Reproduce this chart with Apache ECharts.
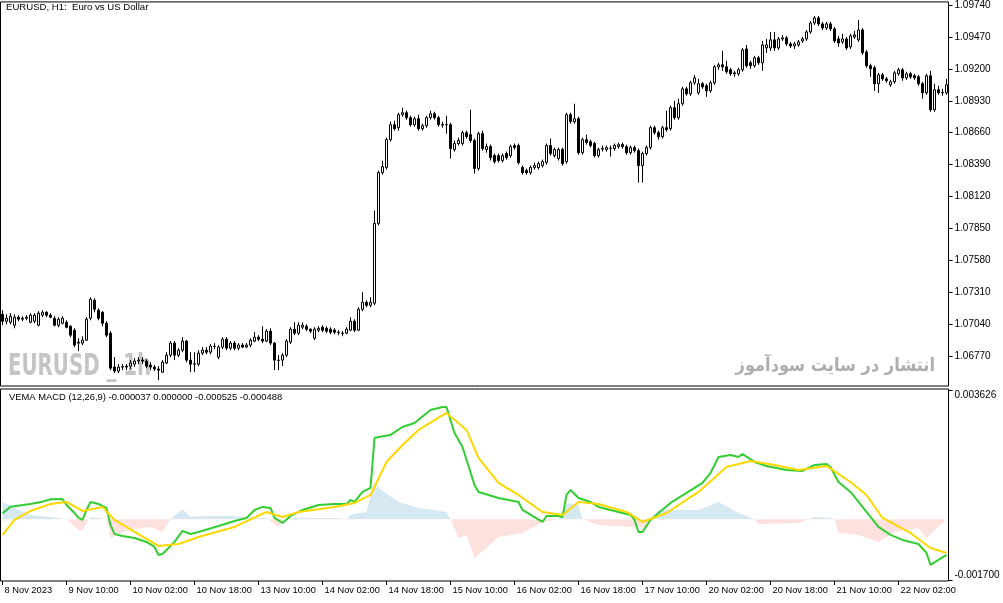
<!DOCTYPE html>
<html>
<head>
<meta charset="utf-8">
<script src="https://cdn.jsdelivr.net/npm/echarts@6.0.0/dist/echarts.min.js"></script>
</head>
<body style="margin:0; background:#fff">
<div id="container" style="width:1003px; height:603px"></div>
<script type="text/javascript">
// EURUSD H1, 8 Nov 2023 18:00 .. 22 Nov 2023 14:00
var opens = [
 1.07124,1.07065,1.07056,1.07031,1.07099,1.07082,1.07090,1.07056,1.07065,1.07031,
 1.07116,1.07141,1.07116,1.07090,1.07031,1.07048,1.07056,1.07022,1.06989,1.06888,
 1.06880,1.06905,1.07090,1.07242,1.07158,1.07141,1.07048,1.06964,1.06677,1.06643,
 1.06677,1.06677,1.06685,1.06702,1.06728,1.06736,1.06728,1.06694,1.06677,1.06660,
 1.06634,1.06711,1.06778,1.06880,1.06778,1.06820,1.06897,1.06736,1.06702,1.06702,
 1.06795,1.06820,1.06803,1.06854,1.06761,1.06846,1.06913,1.06837,1.06880,1.06837,
 1.06863,1.06846,1.06863,1.06897,1.06930,1.06913,1.06897,1.06981,1.06880,1.06736,
 1.06736,1.06778,1.06888,1.06997,1.06964,1.07014,1.07022,1.06997,1.06921,1.06989,
 1.07014,1.07005,1.06997,1.06989,1.06972,1.06964,1.06964,1.06989,1.07065,1.06989,
 1.07166,1.07225,1.07200,1.07217,1.07892,1.08322,1.08365,1.08601,1.08727,1.08702,
 1.08812,1.08829,1.08787,1.08727,1.08778,1.08694,1.08719,1.08787,1.08820,1.08787,
 1.08727,1.08727,1.08727,1.08517,1.08568,1.08568,1.08660,1.08643,1.08593,1.08356,
 1.08652,1.08517,1.08542,1.08466,1.08466,1.08424,1.08483,1.08466,1.08551,1.08551,
 1.08365,1.08339,1.08322,1.08365,1.08365,1.08382,1.08407,1.08551,1.08466,1.08441,
 1.08517,1.08415,1.08812,1.08753,1.08778,1.08491,1.08601,1.08584,1.08568,1.08466,
 1.08525,1.08517,1.08525,1.08525,1.08542,1.08559,1.08542,1.08491,1.08534,1.08508,
 1.08382,1.08483,1.08534,1.08702,1.08660,1.08626,1.08702,1.08694,1.08871,1.08787,
 1.08905,1.09031,1.08989,1.09082,1.08997,1.09074,1.09057,1.09014,1.09082,1.09217,
 1.09234,1.09217,1.09192,1.09158,1.09158,1.09192,1.09368,1.09251,1.09226,1.09293,
 1.09251,1.09377,1.09377,1.09445,1.09377,1.09453,1.09462,1.09411,1.09394,1.09402,
 1.09436,1.09453,1.09512,1.09588,1.09631,1.09580,1.09546,1.09580,1.09538,1.09453,
 1.09428,1.09453,1.09386,1.09470,1.09445,1.09529,1.09343,1.09226,1.09209,1.09074,
 1.09149,1.09115,1.09065,1.09090,1.09158,1.09192,1.09124,1.09158,1.09141,1.09132,
 1.09074,1.08997,1.09141,1.08854,1.09023,1.08997,1.08997
];
var closes = [
 1.07065,1.07090,1.07107,1.07099,1.07082,1.07090,1.07099,1.07116,1.07116,1.07133,
 1.07141,1.07116,1.07099,1.07031,1.07082,1.07090,1.07014,1.06947,1.06863,1.06880,
 1.06905,1.07082,1.07251,1.07166,1.07090,1.07048,1.06947,1.06668,1.06643,1.06677,
 1.06680,1.06685,1.06711,1.06728,1.06736,1.06728,1.06685,1.06677,1.06660,1.06651,
 1.06719,1.06778,1.06880,1.06778,1.06820,1.06897,1.06736,1.06702,1.06705,1.06795,
 1.06820,1.06803,1.06854,1.06851,1.06846,1.06913,1.06837,1.06880,1.06837,1.06863,
 1.06846,1.06863,1.06905,1.06930,1.06913,1.06897,1.06981,1.06880,1.06736,1.06733,
 1.06778,1.06897,1.06997,1.06964,1.07031,1.07031,1.06997,1.06981,1.06997,1.07005,
 1.06989,1.06981,1.06972,1.06972,1.06969,1.06961,1.06997,1.07065,1.06989,1.07166,
 1.07225,1.07200,1.07225,1.07892,1.08322,1.08373,1.08601,1.08727,1.08694,1.08812,
 1.08829,1.08787,1.08727,1.08778,1.08694,1.08719,1.08787,1.08820,1.08787,1.08727,
 1.08724,1.08730,1.08525,1.08568,1.08593,1.08660,1.08626,1.08593,1.08356,1.08652,
 1.08525,1.08542,1.08449,1.08415,1.08424,1.08466,1.08449,1.08542,1.08534,1.08407,
 1.08322,1.08322,1.08365,1.08382,1.08398,1.08415,1.08551,1.08483,1.08517,1.08517,
 1.08398,1.08812,1.08753,1.08778,1.08491,1.08601,1.08576,1.08551,1.08466,1.08517,
 1.08522,1.08534,1.08528,1.08551,1.08559,1.08542,1.08491,1.08534,1.08508,1.08382,
 1.08483,1.08534,1.08702,1.08660,1.08626,1.08702,1.08686,1.08871,1.08787,1.08905,
 1.09031,1.08989,1.09082,1.09124,1.09074,1.09048,1.09014,1.09082,1.09217,1.09234,
 1.09217,1.09175,1.09158,1.09166,1.09192,1.09360,1.09226,1.09226,1.09293,1.09251,
 1.09402,1.09402,1.09445,1.09377,1.09453,1.09462,1.09411,1.09394,1.09411,1.09428,
 1.09453,1.09512,1.09588,1.09631,1.09580,1.09546,1.09580,1.09538,1.09436,1.09419,
 1.09453,1.09377,1.09479,1.09487,1.09529,1.09335,1.09226,1.09200,1.09074,1.09149,
 1.09115,1.09099,1.09090,1.09166,1.09192,1.09124,1.09158,1.09132,1.09124,1.09074,
 1.08997,1.09141,1.08854,1.09023,1.08997,1.09000,1.09065
];
var lows = [
 1.07031,1.07039,1.07039,1.07005,1.07065,1.07065,1.07073,1.07048,1.07048,1.07022,
 1.07099,1.07099,1.07090,1.07022,1.07014,1.07039,1.07005,1.06930,1.06846,1.06812,
 1.06863,1.06897,1.07073,1.07141,1.07073,1.07022,1.06930,1.06651,1.06626,1.06626,
 1.06651,1.06651,1.06660,1.06677,1.06702,1.06702,1.06668,1.06651,1.06643,1.06567,
 1.06626,1.06702,1.06761,1.06736,1.06761,1.06803,1.06719,1.06634,1.06634,1.06685,
 1.06778,1.06786,1.06786,1.06829,1.06744,1.06829,1.06820,1.06820,1.06820,1.06820,
 1.06837,1.06837,1.06846,1.06888,1.06897,1.06880,1.06888,1.06863,1.06651,1.06651,
 1.06685,1.06761,1.06871,1.06947,1.06947,1.06997,1.06981,1.06964,1.06905,1.06972,
 1.06972,1.06964,1.06955,1.06955,1.06947,1.06938,1.06955,1.06981,1.06972,1.06981,
 1.07150,1.07183,1.07183,1.07200,1.07875,1.08305,1.08348,1.08584,1.08677,1.08677,
 1.08795,1.08770,1.08711,1.08711,1.08677,1.08677,1.08702,1.08770,1.08770,1.08711,
 1.08702,1.08652,1.08441,1.08500,1.08551,1.08551,1.08610,1.08576,1.08314,1.08339,
 1.08508,1.08491,1.08424,1.08398,1.08407,1.08407,1.08432,1.08449,1.08517,1.08390,
 1.08305,1.08305,1.08305,1.08348,1.08348,1.08365,1.08390,1.08466,1.08449,1.08424,
 1.08382,1.08398,1.08736,1.08736,1.08474,1.08474,1.08559,1.08534,1.08449,1.08449,
 1.08500,1.08500,1.08458,1.08508,1.08525,1.08525,1.08474,1.08474,1.08491,1.08238,
 1.08238,1.08466,1.08517,1.08643,1.08601,1.08610,1.08669,1.08677,1.08770,1.08770,
 1.08888,1.08972,1.08972,1.09065,1.08980,1.09031,1.08963,1.08997,1.09065,1.09192,
 1.09183,1.09158,1.09141,1.09133,1.09141,1.09175,1.09209,1.09200,1.09209,1.09234,
 1.09183,1.09335,1.09352,1.09352,1.09360,1.09436,1.09394,1.09377,1.09368,1.09386,
 1.09419,1.09436,1.09496,1.09571,1.09563,1.09529,1.09529,1.09521,1.09419,1.09386,
 1.09411,1.09360,1.09368,1.09453,1.09428,1.09318,1.09209,1.09132,1.09014,1.08997,
 1.09099,1.09082,1.09048,1.09074,1.09141,1.09099,1.09107,1.09115,1.09107,1.09057,
 1.08947,1.08980,1.08837,1.08837,1.08980,1.08972,1.08980
];
var highs = [
 1.07158,1.07124,1.07133,1.07124,1.07116,1.07107,1.07116,1.07133,1.07133,1.07150,
 1.07158,1.07150,1.07133,1.07107,1.07099,1.07107,1.07073,1.07031,1.07005,1.06921,
 1.06938,1.07099,1.07268,1.07259,1.07174,1.07150,1.07065,1.06981,1.06761,1.06702,
 1.06702,1.06702,1.06736,1.06752,1.06761,1.06761,1.06744,1.06719,1.06694,1.06685,
 1.06736,1.06803,1.06897,1.06897,1.06837,1.06930,1.06905,1.06803,1.06803,1.06820,
 1.06846,1.06846,1.06871,1.06880,1.06863,1.06930,1.06930,1.06897,1.06897,1.06880,
 1.06880,1.06880,1.06921,1.06972,1.06947,1.07022,1.06997,1.07005,1.06888,1.06778,
 1.06795,1.06913,1.07014,1.07056,1.07056,1.07056,1.07039,1.07005,1.07014,1.07022,
 1.07031,1.07022,1.07014,1.07005,1.06989,1.06981,1.07014,1.07099,1.07082,1.07183,
 1.07310,1.07242,1.07268,1.08002,1.08339,1.08424,1.08618,1.08753,1.08761,1.08829,
 1.08871,1.08846,1.08803,1.08795,1.08812,1.08736,1.08803,1.08846,1.08837,1.08803,
 1.08753,1.08803,1.08744,1.08593,1.08618,1.08677,1.08677,1.08854,1.08610,1.08669,
 1.08677,1.08568,1.08559,1.08483,1.08483,1.08483,1.08500,1.08559,1.08568,1.08568,
 1.08382,1.08356,1.08382,1.08407,1.08415,1.08432,1.08568,1.08610,1.08534,1.08534,
 1.08534,1.08829,1.08829,1.08905,1.08795,1.08618,1.08643,1.08601,1.08584,1.08534,
 1.08551,1.08551,1.08551,1.08568,1.08576,1.08576,1.08559,1.08551,1.08551,1.08525,
 1.08500,1.08551,1.08719,1.08719,1.08677,1.08719,1.08846,1.08888,1.08930,1.08947,
 1.09048,1.09048,1.09099,1.09149,1.09115,1.09090,1.09074,1.09099,1.09234,1.09251,
 1.09352,1.09268,1.09209,1.09183,1.09209,1.09377,1.09402,1.09268,1.09310,1.09310,
 1.09436,1.09453,1.09512,1.09512,1.09470,1.09487,1.09479,1.09428,1.09428,1.09445,
 1.09470,1.09529,1.09605,1.09647,1.09647,1.09597,1.09597,1.09597,1.09555,1.09479,
 1.09496,1.09470,1.09496,1.09521,1.09613,1.09546,1.09360,1.09243,1.09226,1.09166,
 1.09166,1.09132,1.09107,1.09183,1.09209,1.09209,1.09175,1.09175,1.09158,1.09149,
 1.09090,1.09158,1.09183,1.09074,1.09057,1.09031,1.09115
];

// VEMA MACD (12,26,9): [bar index, value] read at the line's turning points
var macdLine = [
 [0,0.000171],[2,0.000356],[7,0.000432],[10,0.000496],[12,0.000563],[15,0.000572],[16,0.000404],
 [18,0.000179],[19,0.000039],[20,-0.000017],[21,0.000263],[22,0.000488],[24,0.000432],[26,0.000320],
 [27,-0.000157],[28,-0.000409],[30,-0.000465],[33,-0.000521],[36,-0.000633],[38,-0.000774],
 [39,-0.000998],[40,-0.000970],[43,-0.000633],[45,-0.000325],[47,-0.000409],[49,-0.000353],
 [54,-0.000185],[58,-0.000045],[61,0.000039],[63,0.000263],[65,0.000348],[67,0.000320],[68,0.000039],
 [70,-0.000101],[72,0.000095],[75,0.000263],[79,0.000404],[83,0.000432],[86,0.000432],[87,0.000544],
 [88,0.000488],[90,0.000768],[92,0.000880],[93,0.002282],[94,0.002310],[97,0.002366],[100,0.002590],
 [103,0.002702],[107,0.003066],[110,0.003151],[111,0.003151],[113,0.002422],[115,0.002029],
 [118,0.000964],[119,0.000768],[124,0.000600],[129,0.000488],[130,0.000263],[135,-0.000073],
 [136,0.000095],[139,0.000095],[140,0.000067],[141,0.000684],[142,0.000824],[144,0.000600],
 [147,0.000488],[149,0.000348],[153,0.000235],[157,0.000123],[158,-0.000017],[159,-0.000353],
 [160,-0.000353],[162,-0.000017],[164,0.000179],[167,0.000460],[171,0.000740],[175,0.001020],
 [177,0.001301],[179,0.001749],[182,0.001805],[184,0.001749],[185,0.001833],[188,0.001609],
 [191,0.001497],[196,0.001385],[200,0.001357],[203,0.001525],[206,0.001553],[207,0.001469],
 [209,0.001048],[212,0.000768],[214,0.000488],[217,0.000067],[219,-0.000213],[222,-0.000437],
 [225,-0.000577],[229,-0.000690],[231,-0.000942],[232,-0.001278],[236,-0.000998]
];
var signalLine = [
 [0,-0.000437],[3,-0.000017],[7,0.000235],[12,0.000432],[16,0.000488],[20,0.000235],[25,0.000348],
 [28,-0.000017],[33,-0.000353],[39,-0.000746],[44,-0.000690],[49,-0.000493],[58,-0.000213],
 [66,0.000207],[70,0.000067],[74,0.000207],[83,0.000348],[88,0.000460],[92,0.000684],[96,0.001609],
 [100,0.002085],[104,0.002506],[111,0.002982],[116,0.002506],[119,0.001721],[124,0.001020],
 [129,0.000684],[135,0.000207],[140,0.000123],[144,0.000488],[149,0.000432],[156,0.000207],
 [160,-0.000073],[166,0.000179],[174,0.000768],[181,0.001469],[187,0.001637],[193,0.001525],
 [199,0.001385],[206,0.001497],[212,0.001048],[216,0.000684],[220,0.000039],[227,-0.000381],
 [232,-0.000802],[236,-0.000942]
];
var histLine = [
 [0,0.000488],[3,0.000320],[7,0.000123],[12,0.000067],[16,0],[19,-0.000297],[20,-0.000297],
 [22,0.000067],[24,0.000039],[26,0],[27,-0.000521],[30,-0.000353],[33,-0.000269],[37,-0.000213],
 [40,-0.000353],[42,0],[45,0.000291],[47,0.000067],[51,0.000095],[58,0.000095],[63,0.000039],
 [66,0.000039],[69,-0.000213],[70,0],[72,0.000039],[83,0.000039],[86,0.000011],[87,0.000123],
 [89,0.000179],[91,0.000207],[93,0.001048],[94,0.000880],[99,0.000488],[104,0.000320],
 [108,0.000263],[111,0.000207],[112,0],[114,-0.000521],[116,-0.000437],[118,-0.001082],
 [121,-0.000802],[124,-0.000493],[130,-0.000381],[135,-0.000073],[139,0],[141,0.000460],
 [144,0.000404],[145,0],[149,-0.000157],[158,-0.000213],[161,-0.000241],[162,0],[164,0.000263],
 [174,0.000263],[179,0.000488],[184,0.000179],[188,0],[189,-0.000129],[199,-0.000101],
 [203,0.000067],[207,0.000039],[208,0],[209,-0.000381],[214,-0.000437],[219,-0.000633],
 [223,-0.000353],[229,-0.000241],[231,-0.000521],[236,0]
];

var tickLabels = ['8 Nov 2023', '9 Nov 10:00', '10 Nov 02:00', '10 Nov 18:00', '13 Nov 10:00',
  '14 Nov 02:00', '14 Nov 18:00', '15 Nov 10:00', '16 Nov 02:00', '16 Nov 18:00',
  '17 Nov 10:00', '20 Nov 02:00', '20 Nov 18:00', '21 Nov 10:00', '22 Nov 02:00'];
var barsPerTick = 16;
var priceTicks = [1.09740, 1.09470, 1.09200, 1.08930, 1.08660, 1.08390, 1.08120,
  1.07850, 1.07580, 1.07310, 1.07040, 1.06770];
var macdTicks = [-0.001700, 0.003626];

var cats = opens.map(function (v, i) { return String(i); });
var candles = opens.map(function (o, i) { return [o, closes[i], lows[i], highs[i]]; });

var font = 'Liberation Sans';
var dom = document.getElementById('container');
var myChart = echarts.init(dom);
var option = {
    animation: false,
    backgroundColor: '#fff',
    grid: [
        { left: 0.5, top: 1, width: 948, height: 385, show: true, borderColor: '#000', borderWidth: 1 },
        { left: 0.5, top: 389, width: 948, height: 192, show: true, borderColor: '#000', borderWidth: 1 }
    ],
    xAxis: [
        {
            type: 'category', gridIndex: 0, data: cats,
            axisLine: { show: false, onZero: false }, axisTick: { show: false }, axisLabel: { show: false },
            splitLine: { show: false }
        },
        {
            type: 'category', gridIndex: 1, data: cats, position: 'bottom',
            axisLine: { show: false, onZero: false },
            axisTick: { show: true, interval: barsPerTick - 1, alignWithLabel: true, length: 4,
                lineStyle: { color: '#000' } },
            axisLabel: {
                interval: barsPerTick - 1, align: 'left', margin: 5, padding: [0, 0, 0, 2],
                fontSize: 9.3, fontFamily: font, color: '#000',
                formatter: function (v, idx) { return tickLabels[idx / barsPerTick] || ''; }
            },
            splitLine: { show: false }
        }
    ],
    yAxis: [
        {
            type: 'value', gridIndex: 0, position: 'right', min: 1.06517, max: 1.09766,
            axisLine: { show: false },
            axisTick: { show: true, length: 4, customValues: priceTicks, lineStyle: { color: '#000' } },
            axisLabel: { customValues: priceTicks, margin: 6, fontSize: 10, fontFamily: font, color: '#000',
                formatter: function (v) { return v.toFixed(5); } },
            splitLine: { show: false }
        },
        {
            type: 'value', gridIndex: 1, position: 'right', min: -0.001728, max: 0.003654,
            axisLine: { show: false },
            axisTick: { show: true, length: 4, customValues: macdTicks, lineStyle: { color: '#000' } },
            axisLabel: { customValues: macdTicks, margin: 6, fontSize: 10, fontFamily: font, color: '#000',
                verticalAlignMaxLabel: 'top', verticalAlignMinLabel: 'bottom',
                formatter: function (v) { return v.toFixed(6); } },
            splitLine: { show: false }
        }
    ],
    visualMap: {
        type: 'piecewise', show: false, seriesIndex: 1, dimension: 1,
        pieces: [
            { gte: -0.01, lt: 0, color: '#FCE1DF' },
            { gte: 0, lte: 0.01, color: '#D6E9F2' }
        ]
    },
    graphic: [
        { type: 'text', left: 6, top: 2, z: 100,
          style: { text: 'EURUSD, H1:  Euro vs US Dollar', font: '9.6px "Liberation Sans"', fill: '#000' } },
        { type: 'text', left: 9, top: 393, z: 100,
          style: { text: 'VEMA MACD (12,26,9) -0.000037 0.000000 -0.000525 -0.000488',
                   font: '9.4px "Liberation Sans"', fill: '#000' } },
        { type: 'text', x: 8, y: 367, scaleX: 0.66, z: 0,
          style: { text: 'EURUSD _ 1h', x: 0, y: 0, align: 'left', verticalAlign: 'middle',
                   font: 'bold 30px "DejaVu Sans"', fill: '#c4c4c4' } },
        { type: 'text', x: 935, y: 366, scaleX: 0.9, z: 0,
          style: { text: 'انتشار در سایت سودآموز', x: 0, y: 0, align: 'right', verticalAlign: 'middle',
                   font: 'bold 18px "DejaVu Sans"', fill: '#adadad' } }
    ],
    series: [
        {
            type: 'candlestick', xAxisIndex: 0, yAxisIndex: 0, data: candles, barWidth: 2, z: 5,
            itemStyle: { color: '#fff', color0: '#000', borderColor: '#000', borderColor0: '#000', borderWidth: 1 }
        },
        {
            type: 'line', xAxisIndex: 1, yAxisIndex: 1, data: histLine, symbol: 'none',
            lineStyle: { width: 0 }, areaStyle: { opacity: 1 }, z: 1
        },
        {
            type: 'line', xAxisIndex: 1, yAxisIndex: 1, data: macdLine, symbol: 'none',
            lineStyle: { width: 2, color: '#32CD32' }, itemStyle: { color: '#32CD32' }, z: 3
        },
        {
            type: 'line', xAxisIndex: 1, yAxisIndex: 1, data: signalLine, symbol: 'none',
            lineStyle: { width: 2, color: '#FFD700' }, itemStyle: { color: '#FFD700' }, z: 4
        }
    ]
};
myChart.setOption(option);
</script>
</body>
</html>
